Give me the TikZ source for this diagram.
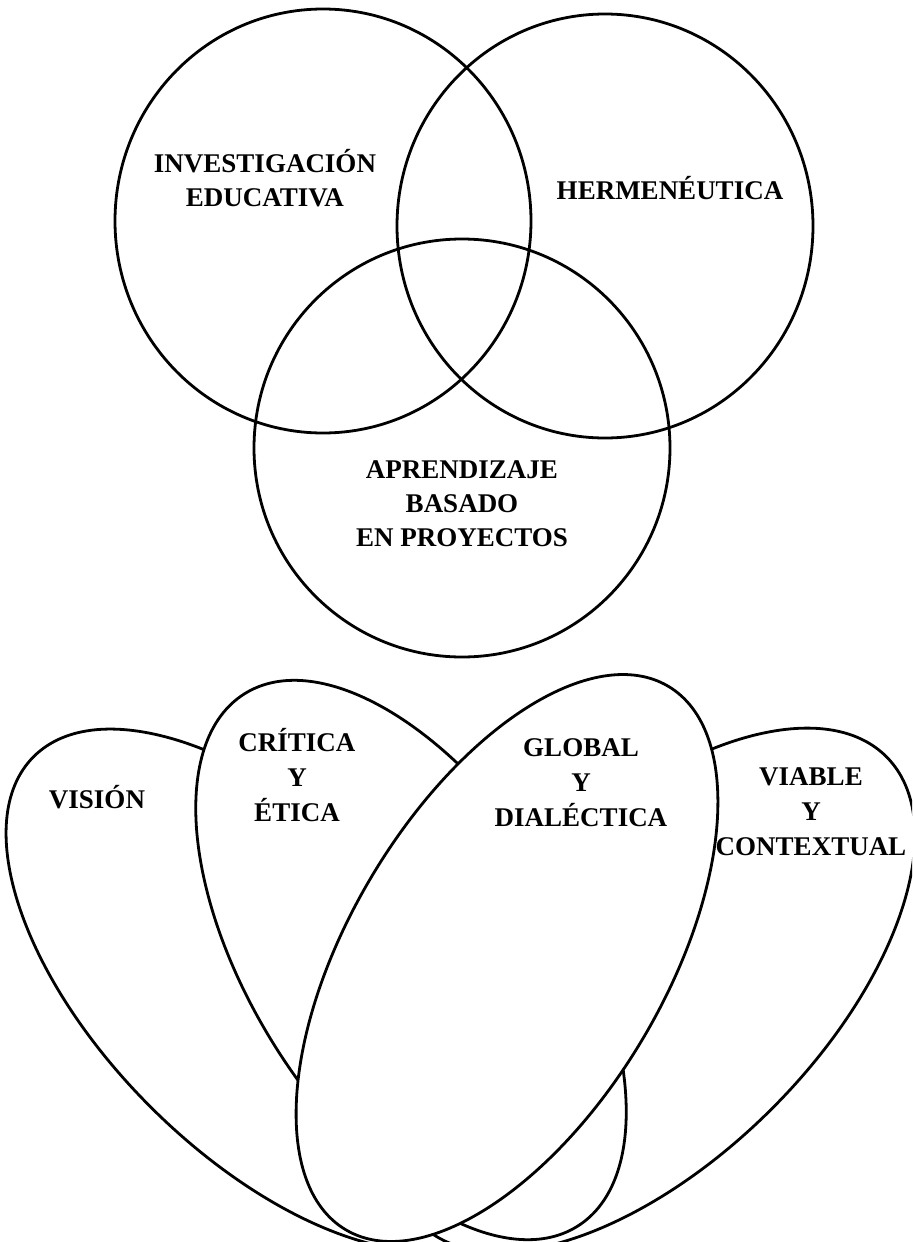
\documentclass[tikz,border=0pt]{standalone}
\usepackage{fontspec}
\setmainfont{Liberation Serif}
\begin{document}
\begin{tikzpicture}[x=0.5pt,y=-0.5pt,line width=1.4pt,
  ring/.style={draw=black},
  petal/.style={draw=black,fill=white},
  lbl/.style={font=\bfseries\fontsize{13.5}{17}\selectfont,align=center,inner sep=0pt},
  plbl/.style={font=\bfseries\fontsize{13.5}{17.5}\selectfont,align=center,inner sep=0pt}]
\useasboundingbox (0,0) rectangle (912,1242);
\clip (0,0) rectangle (912,1242);
% top: three circles
\draw[ring] (323,221) ellipse [x radius=208,y radius=212];
\draw[ring] (605,226) ellipse [x radius=208,y radius=212];
\draw[ring] (462,448) ellipse [x radius=208,y radius=209];
\node[lbl] (inv) at (265,178) {INVESTIGACIÓN\\EDUCATIVA};
\node[lbl] (her) at (670,188) {HERMENÉUTICA};
\node[lbl] (abp) at (462,504) {APRENDIZAJE\\BASADO\\EN PROYECTOS};
% bottom: four petals, drawn back to front
\path[petal,rotate around={45:(267,990)}] (267,990) ellipse [x radius=165,y radius=330];
\path[petal,rotate around={-45:(653,990)}] (653,990) ellipse [x radius=168,y radius=330];
\path[petal,rotate around={32:(411,960)}] (411,960) ellipse [x radius=161,y radius=314];
\path[petal,rotate around={-30.7:(507,958)}] (507,958) ellipse [x radius=158,y radius=316];
\node[plbl] (vis) at (97,797) {VISIÓN};
\node[plbl] (cri) at (297,775) {CRÍTICA\\Y\\ÉTICA};
\node[plbl] (glo) at (581,783) {GLOBAL\\Y\\DIALÉCTICA};
\node[plbl] (via) at (811,812) {VIABLE\\Y\\CONTEXTUAL};
\end{tikzpicture}
\end{document}
